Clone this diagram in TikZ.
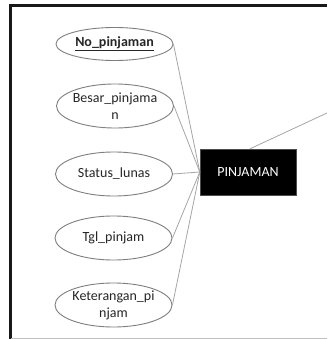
\documentclass[tikz,border=0pt]{standalone}
\usepackage{fontspec}
\setmainfont{Carlito}
\usetikzlibrary{shapes.geometric}
\definecolor{outline}{HTML}{7F7F7F}
\definecolor{linkgray}{HTML}{A6A6A6}
\tikzset{
  attr/.style={ellipse, draw=outline, line width=0.9pt, minimum width=117pt,
    minimum height=44pt, inner sep=0pt},
  attrtext/.style={align=center, inner sep=0pt, text=black!85,
    font=\fontsize{14}{17}\selectfont},
  entity/.style={rectangle, fill=black, draw=black!70, minimum width=96pt,
    minimum height=46pt, inner sep=0pt, text=white,
    font=\fontsize{14}{17}\selectfont},
  link/.style={draw=linkgray, line width=0.8pt}
}
\begin{document}
\begin{tikzpicture}[x=1pt, y=-1pt]
  \useasboundingbox (0,0) rectangle (327,339);
  \fill[white] (0,0) rectangle (327,339);

  % page frame
  \draw[line width=2.6pt, black!90] (10.5,339) -- (10.5,5.3) -- (327,5.3);
  \draw[black!25, line width=0.6pt] (11,338) -- (327,338);

  % attributes
  \node[attr, minimum height=33pt] (e1) at (114.5,44) {};
  \node[attrtext] (t1) at (e1) {\textbf{\underline{No\_pinjaman}}};
  \node[attr] (e2) at (115,106) {};
  \node[attrtext] (t2) at (e2) {Besar\_pinjama\\n};
  \node[attr] (e3) at (114,174) {};
  \node[attrtext] (t3) at (e3) {Status\_lunas};
  \node[attr] (e4) at (113.5,238) {};
  \node[attrtext] (t4) at (e4) {Tgl\_pinjam};
  \node[attr] (e5) at (113.5,305) {};
  \node[attrtext] (t5) at (e5) {Keterangan\_pi\\njam};

  % entity
  \node[entity] (pj) at (248,172) {PINJAMAN};

  % connectors
  \foreach \e in {e1,e2,e3,e4,e5}
    \draw[link] (\e.east) -- (pj.west);
  \coordinate (off) at (327,113);
  \draw[link] ([xshift=2pt]pj.north) -- (off);
\end{tikzpicture}
\end{document}
